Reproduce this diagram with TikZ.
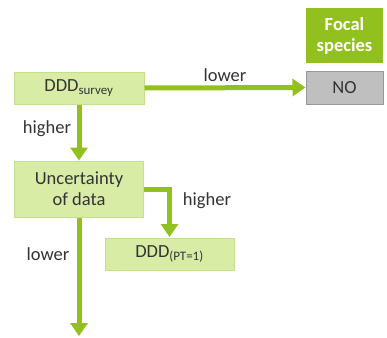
\documentclass[tikz,border=0pt]{standalone}
\usepackage{fontspec}
\setmainfont{Carlito}
\usetikzlibrary{arrows.meta}
\definecolor{leaf}{HTML}{92C01F}
\definecolor{pale}{HTML}{D8ECA6}
\definecolor{paleline}{HTML}{C4E08C}
\definecolor{greybox}{HTML}{BFBFBF}
\definecolor{ink}{HTML}{333333}
\begin{document}
\begin{tikzpicture}[x=1pt,y=-1pt,
    font=\fontsize{18.5}{21}\selectfont,
    box/.style={draw=paleline,fill=pale,line width=1pt,text=ink,align=center,inner sep=0pt},
    flow/.style={draw=leaf,line width=5pt,-{Triangle[width=17pt,length=13pt]}},
    lbl/.style={text=ink,inner sep=1pt}]
    \useasboundingbox (0,0) rectangle (387,337);

    \node [fill=leaf,text=white,font=\fontsize{18.5}{21}\selectfont\bfseries,align=center,
           minimum width=77pt,minimum height=55pt,inner sep=0pt] (focal) at (344.5,35.5) {Focal\\species};
    \node [draw=greybox!80!black,fill=greybox,line width=1pt,text=ink,
           minimum width=77pt,minimum height=33pt,inner sep=0pt] (no) at (344.5,87.5) {NO};

    \node [box,minimum width=130pt,minimum height=32pt] (survey) at (79,88) {DDD\textsubscript{survey}};
    \node [box,minimum width=129pt,minimum height=56pt] (uncert) at (79,189) {Uncertainty\\of data};
    \node [box,minimum width=129pt,minimum height=32pt] (ptone) at (169.5,254) {DDD\textsubscript{(PT=1)}};
    \coordinate (out) at (79,337);

    \draw [flow] (survey.east) -- (no.west) node [lbl,midway,above=3pt] (lowA) {lower};
    \draw [flow] (survey.south) -- (uncert.north);
    \node [lbl] (highA) at (47,129) {higher};
    \draw [flow,shorten >=0.5pt] (uncert.east) -| (ptone.north);
    \node [lbl] (highB) at (207,201) {higher};
    \draw [flow,shorten >=1pt] (uncert.south) -- (out);
    \node [lbl] (lowB) at (48,254) {lower};
\end{tikzpicture}
\end{document}
